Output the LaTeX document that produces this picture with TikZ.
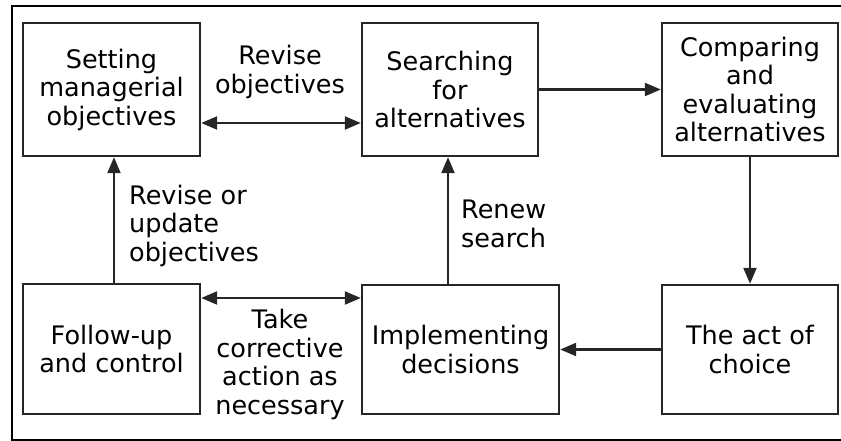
\documentclass[tikz,border=0pt]{standalone}
\usepackage{fontspec}
\setmainfont{DejaVu Sans}
\usetikzlibrary{arrows.meta}
\begin{document}
\begin{tikzpicture}[x=1pt,y=-1pt,
  every node/.style={font=\fontsize{25.5}{28.5}\selectfont, text=black},
  box/.style={draw=black!85, line width=2.4pt, align=center, inner sep=0pt},
  lbl/.style={inner sep=0pt},
  conn/.style={draw=black!85, line width=2.2pt, -{Triangle[length=16pt,width=13pt]}},
  conntwo/.style={draw=black!85, line width=2.2pt, {Triangle[length=16pt,width=13pt]}-{Triangle[length=16pt,width=13pt]}}]
\useasboundingbox (0,0) rectangle (841,441);
% outer frame
\coordinate (f1) at (843,6);
\coordinate (f2) at (12,6);
\coordinate (f3) at (12,440);
\coordinate (f4) at (843,440);
\draw[line width=2.6pt] (f1) -- (f2) -- (f3) -- (f4);
% boxes
\node[box, minimum width=177pt, minimum height=133pt] (set) at (111.5,89.5) {Setting\\managerial\\objectives};
\node[box, minimum width=176pt, minimum height=133pt] (srch) at (450,89.5) {Searching\\for\\alternatives};
\node[box, minimum width=176pt, minimum height=133pt] (cmp) at (750,89.5) {Comparing\\and\\evaluating\\alternatives};
\node[box, minimum width=177pt, minimum height=130pt] (fol) at (111.5,349) {Follow-up\\and control};
\node[box, minimum width=197pt, minimum height=129pt] (impl) at (460.5,349.5) {Implementing\\decisions};
\node[box, minimum width=176pt, minimum height=129pt] (act) at (750,349.5) {The act of\\choice};
% helper coordinates
\coordinate (ya) at (0,123);
\coordinate (yb) at (0,298);
\coordinate (xa) at (114,0);
\coordinate (xb) at (448,0);
% connectors
\draw[conntwo] (set.east |- ya) -- (srch.west |- ya);
\draw[conn] (srch.east) -- (cmp.west);
\draw[conn] (cmp.south) -- (act.north);
\draw[conn] (act.west) -- (impl.east);
\draw[conn] (impl.north -| xb) -- (srch.south -| xb);
\draw[conn] (fol.north -| xa) -- (set.south -| xa);
\draw[conntwo] (fol.east |- yb) -- (impl.west |- yb);
% labels
\node[lbl, align=center] (l1) at (280,72) {Revise\\objectives};
\node[lbl, align=left, anchor=west] (l2) at (129,225.5) {Revise or\\update\\objectives};
\node[lbl, align=left, anchor=west] (l3) at (461,224) {Renew\\search};
\node[lbl, align=center] (l4) at (280,364.5) {Take\\corrective\\action as\\necessary};
\end{tikzpicture}
\end{document}
